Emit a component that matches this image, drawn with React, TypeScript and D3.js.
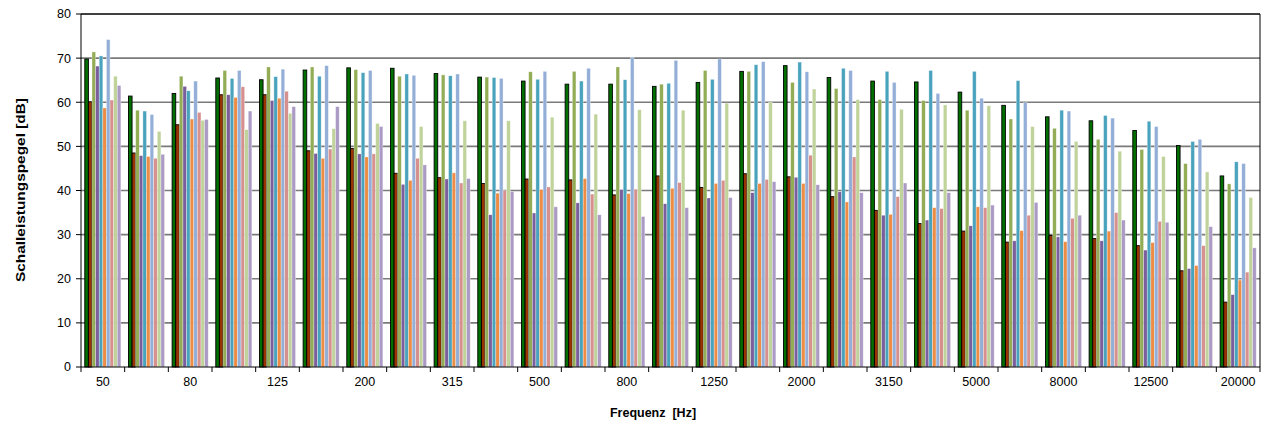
import React from "react";
import * as d3 from "d3";

const categories = ["50","63","80","100","125","160","200","250","315","400","500","630","800","1000","1250","1600","2000","2500","3150","4000","5000","6300","8000","10000","12500","16000","20000"];
const yTicks = [0, 10, 20, 30, 40, 50, 60, 70, 80];

const s1 = [69.8, 61.4, 62.0, 65.5, 65.1, 67.3, 67.8, 67.7, 66.5, 65.7, 64.8, 64.1, 64.1, 63.6, 64.5, 67.0, 68.3, 65.6, 64.8, 64.6, 62.3, 59.3, 56.7, 55.8, 53.6, 50.2, 43.3];
const s2 = [60.1, 48.5, 54.9, 61.7, 61.7, 49.0, 49.5, 43.9, 42.9, 41.6, 42.6, 42.4, 39.0, 43.3, 40.7, 43.8, 43.1, 38.6, 35.5, 32.5, 30.8, 28.3, 29.8, 29.1, 27.5, 21.8, 14.7];
const s3 = [71.4, 58.2, 65.9, 67.2, 68.0, 68.0, 67.4, 65.9, 66.2, 65.7, 66.9, 67.0, 68.0, 64.1, 67.2, 67.0, 64.5, 63.1, 60.6, 60.4, 58.2, 56.2, 54.1, 51.6, 49.3, 46.1, 41.5];
const s4 = [68.2, 47.9, 63.6, 61.7, 60.4, 48.4, 48.3, 41.4, 42.6, 34.5, 34.9, 37.2, 40.2, 37.0, 38.3, 39.5, 43.0, 39.7, 34.4, 33.3, 32.0, 28.6, 29.5, 28.6, 26.5, 22.3, 16.4];
const s5 = [70.5, 58.0, 62.6, 65.4, 65.8, 65.9, 66.7, 66.4, 66.0, 65.6, 65.2, 64.8, 65.1, 64.3, 65.2, 68.5, 69.1, 67.7, 67.0, 67.2, 67.0, 64.9, 58.2, 57.0, 55.7, 51.1, 46.5];
const s6 = [58.7, 47.7, 56.2, 61.1, 60.9, 47.3, 47.6, 42.3, 44.0, 39.4, 40.2, 42.7, 39.3, 40.5, 41.6, 41.6, 41.6, 37.4, 34.6, 36.1, 36.3, 30.9, 28.4, 30.8, 28.2, 23.0, 19.7];
const s7 = [74.2, 57.2, 64.8, 67.2, 67.5, 68.3, 67.2, 66.1, 66.4, 65.4, 67.0, 67.7, 70.2, 69.5, 69.8, 69.2, 66.9, 67.2, 64.5, 62.0, 60.9, 59.9, 58.0, 56.4, 54.5, 51.6, 46.1];
const s8 = [60.5, 47.3, 57.7, 63.5, 62.5, 49.4, 48.3, 47.3, 41.7, 40.0, 40.8, 39.2, 40.3, 41.8, 42.3, 42.5, 48.0, 47.6, 38.6, 35.9, 36.1, 34.4, 33.7, 35.0, 33.0, 27.5, 21.5];
const s9 = [65.9, 53.4, 55.9, 53.8, 57.5, 54.0, 55.2, 54.5, 55.8, 55.8, 56.6, 57.3, 58.3, 58.2, 59.8, 60.0, 63.0, 60.6, 58.4, 59.4, 59.2, 54.5, 51.1, 48.9, 47.7, 44.2, 38.4];
const s10 = [63.8, 48.2, 56.1, 58.0, 59.0, 59.0, 54.5, 45.8, 42.7, 39.8, 36.3, 34.5, 34.1, 36.1, 38.4, 42.0, 41.3, 39.5, 41.7, 39.5, 36.7, 37.3, 34.4, 33.3, 32.8, 31.8, 27.0];

const seriesValues = [s1, s2, s3, s4, s5, s6, s7, s8, s9, s10];
const seriesColors = ["#006f00", "#993300", "#92ad55", "#7b5e9c", "#4aa3bd", "#ec8c45", "#93afd8", "#d6908e", "#bfd39a", "#ab9bc4"];
const seriesStroke = ["#000", "#000", "#fff", "#fff", "#fff", "#fff", "#fff", "#fff", "#fff", "#fff"];

const W = 1267, H = 423;
const left = 81, right = 1260, top = 14, bottom = 367;
const FONT = "'Liberation Sans', Arial, sans-serif";

export default function App() {
  const x = d3.scaleBand<string>().domain(categories).range([left, right]).paddingInner(0).paddingOuter(0);
  const xs = d3.scaleBand<number>().domain(d3.range(seriesValues.length)).range([0, x.bandwidth()]).paddingInner(0).paddingOuter(1.05);
  const y = d3.scaleLinear().domain([0, 80]).range([bottom, top]);
  const bw = xs.bandwidth();

  return (
    <svg width={W} height={H} style={{ position: "absolute", left: 0, top: 0, background: "#fff" }} fontFamily={FONT}>
      <rect x={0} y={0} width={W} height={H} fill="#fff" />
      {yTicks.filter(t => t > 0).map(t => (
        <line key={"g" + t} x1={left} x2={right} y1={y(t)} y2={y(t)} stroke={t === 80 ? "#000" : "#7a7a7a"} strokeWidth={t === 80 ? 1 : 1.6} />
      ))}
      {seriesValues.map((vals, si) => (
        <g key={"s" + si}>
          {vals.map((v, ci) => {
            const x0 = (x(categories[ci]) as number) + (xs(si) as number);
            const y0 = y(v);
            return (
              <rect key={ci} x={x0} y={y0} width={bw} height={y(0) - y0}
                fill={seriesColors[si]}
                stroke={seriesStroke[si]}
                strokeOpacity={si < 2 ? 1 : 0.55}
                strokeWidth={si < 2 ? 0.9 : 0.6} />
            );
          })}
        </g>
      ))}
      <line x1={right} x2={right} y1={top} y2={bottom} stroke="#000" strokeWidth={1} />
      <line x1={left} x2={right} y1={top} y2={top} stroke="#000" strokeWidth={1} />
      <line x1={left} x2={left} y1={top} y2={bottom} stroke="#000" strokeWidth={1} />
      {yTicks.map(t => (
        <g key={"yt" + t}>
          <line x1={left - 5} x2={left} y1={y(t)} y2={y(t)} stroke="#000" strokeWidth={1} />
          <text x={left - 10} y={y(t)} dy="0.35em" textAnchor="end" fontSize={12.5} fill="#000">{t}</text>
        </g>
      ))}
      <line x1={left} x2={right} y1={bottom} y2={bottom} stroke="#000" strokeWidth={1} />
      {categories.map((c, i) => (
        <line key={"xt" + i} x1={x(c) as number} x2={x(c) as number} y1={bottom} y2={bottom + 5} stroke="#000" strokeWidth={1} />
      ))}
      <line x1={right} x2={right} y1={bottom} y2={bottom + 5} stroke="#000" strokeWidth={1} />
      {categories.map((c, i) => i % 2 === 0 ? (
        <text key={"xl" + i} x={(x(c) as number) + x.bandwidth() / 2} y={bottom + 15} dy="0.35em" textAnchor="middle" fontSize={12.5} fill="#000">{c}</text>
      ) : null)}
      <text x={653} y={413} dy="0.35em" textAnchor="middle" fontSize={12.5} fontWeight="bold" fill="#000" style={{ whiteSpace: "pre" }}>{"Frequenz  [Hz]"}</text>
      <text transform={`translate(20,190) rotate(-90)`} dy="0.35em" textAnchor="middle" fontSize={13} fontWeight="bold" fill="#000" textLength={184} lengthAdjust="spacingAndGlyphs">Schalleistungspegel [dB]</text>
    </svg>
  );
}
